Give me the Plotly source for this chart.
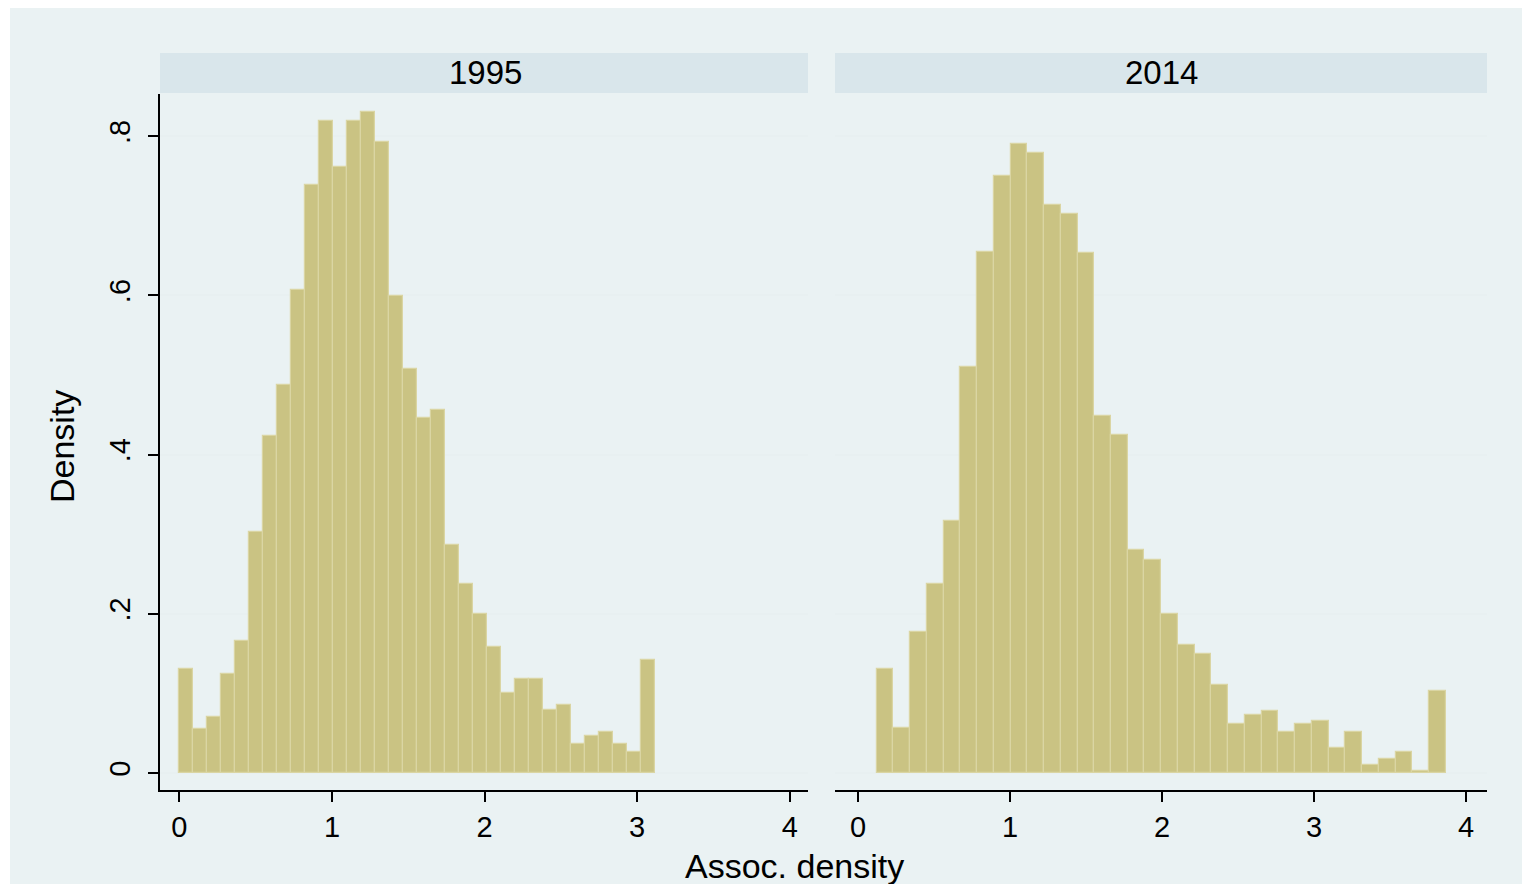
import plotly.graph_objects as go

# ---------------- data ----------------
years = ["1995", "2014"]

# histogram 1995 (density per bin)
bin_start_1995 = 0.0
bin_width_1995 = 0.0917
density_1995 = [0.131, 0.055, 0.071, 0.124, 0.166, 0.303, 0.423, 0.488, 0.607, 0.739,
                0.819, 0.761, 0.819, 0.830, 0.793, 0.599, 0.507, 0.446, 0.456, 0.287,
                0.237, 0.200, 0.158, 0.100, 0.118, 0.118, 0.079, 0.086, 0.036, 0.047,
                0.052, 0.036, 0.026, 0.142]

# histogram 2014 (density per bin)
bin_start_2014 = 0.123
bin_width_2014 = 0.1101
density_2014 = [0.131, 0.057, 0.177, 0.237, 0.317, 0.510, 0.655, 0.750, 0.790, 0.779,
                0.713, 0.702, 0.653, 0.448, 0.425, 0.280, 0.267, 0.200, 0.161, 0.150,
                0.110, 0.061, 0.073, 0.078, 0.052, 0.061, 0.066, 0.031, 0.052, 0.010,
                0.018, 0.026, 0.002, 0.103]

x_ticks = [0, 1, 2, 3, 4]
y_ticks = [0, 0.2, 0.4, 0.6, 0.8]
y_ticktext = ["0", ".2", ".4", ".6", ".8"]

x_title = "Assoc. density"
y_title = "Density"

# ---------------- style ----------------
OFF = 8                      # page body margin in the browser
W, H = 1530 - OFF, 884 - OFF
FONT = "Liberation Sans, Arial, sans-serif"
BG = "rgb(234,242,243)"
STRIP = "rgb(217,230,235)"
GRID = "rgb(232,240,241)"
BAR = "rgb(202,195,131)"
BAR_LINE = "rgb(218,213,163)"


def px(x):
    return (x - OFF) / W


def py(y):
    return 1 - (y - OFF) / H


def centers(start, width, n):
    return [start + (i + 0.5) * width for i in range(n)]


fig = go.Figure()

fig.add_trace(go.Bar(
    x=centers(bin_start_1995, bin_width_1995, len(density_1995)),
    y=density_1995, width=bin_width_1995,
    marker=dict(color=BAR, line=dict(color=BAR_LINE, width=1.2)),
    xaxis="x", yaxis="y", showlegend=False, name=years[0]))

fig.add_trace(go.Bar(
    x=centers(bin_start_2014, bin_width_2014, len(density_2014)),
    y=density_2014, width=bin_width_2014,
    marker=dict(color=BAR, line=dict(color=BAR_LINE, width=1.2)),
    xaxis="x2", yaxis="y2", showlegend=False, name=years[1]))

ydom = [py(790), py(94)]
yrange = [-0.0213, 0.853]

common_x = dict(tickvals=x_ticks, ticks="outside", ticklen=10, tickwidth=2,
                tickcolor="black", showline=True, linecolor="black", linewidth=2,
                showgrid=False, zeroline=False,
                tickfont=dict(family=FONT, size=29, color="black"))

fig.update_layout(
    width=W, height=H, autosize=False,
    margin=dict(l=0, r=0, t=0, b=0),
    paper_bgcolor="white", plot_bgcolor="white",
    bargap=0,
    xaxis=dict(domain=[px(160), px(808)], range=[-0.127, 4.12], anchor="y", **common_x),
    xaxis2=dict(domain=[px(835), px(1487)], range=[-0.151, 4.138], anchor="y2", **common_x),
    yaxis=dict(domain=ydom, range=yrange, anchor="x", tickvals=y_ticks, ticktext=y_ticktext,
               tickangle=-90, ticks="outside", ticklen=10, tickwidth=2, tickcolor="black",
               ticklabelstandoff=6,
               showline=True, linecolor="black", linewidth=2,
               showgrid=True, gridcolor=GRID, gridwidth=1.5, zeroline=False,
               tickfont=dict(family=FONT, size=29, color="black")),
    yaxis2=dict(domain=ydom, range=yrange, anchor="x2", tickvals=y_ticks,
                showticklabels=False, ticks="", showline=False,
                showgrid=True, gridcolor=GRID, gridwidth=1.5, zeroline=False),
)

shapes = [
    dict(type="rect", xref="paper", yref="paper", x0=px(10), x1=px(1527), y0=0, y1=py(7),
         fillcolor=BG, line=dict(width=0), layer="below"),
    dict(type="rect", xref="paper", yref="paper", x0=px(160), x1=px(808), y0=py(93), y1=py(53),
         fillcolor=STRIP, line=dict(width=0), layer="below"),
    dict(type="rect", xref="paper", yref="paper", x0=px(835), x1=px(1487), y0=py(93), y1=py(53),
         fillcolor=STRIP, line=dict(width=0), layer="below"),
]
fig.update_layout(shapes=shapes)

annotations = [
    dict(text=years[0], x=px(485), y=py(72), xref="paper", yref="paper", showarrow=False,
         xanchor="center", yanchor="middle", font=dict(family=FONT, size=33, color="black")),
    dict(text=years[1], x=px(1161), y=py(72), xref="paper", yref="paper", showarrow=False,
         xanchor="center", yanchor="middle", font=dict(family=FONT, size=33, color="black")),
    dict(text=y_title, x=px(62), y=py(447), xref="paper", yref="paper", showarrow=False,
         textangle=-90, xanchor="center", yanchor="middle",
         font=dict(family=FONT, size=34, color="black")),
    dict(text=x_title, x=px(794), y=py(866), xref="paper", yref="paper", showarrow=False,
         xanchor="center", yanchor="middle", font=dict(family=FONT, size=34, color="black")),
]
fig.update_layout(annotations=annotations)

fig.write_html("out.html")
